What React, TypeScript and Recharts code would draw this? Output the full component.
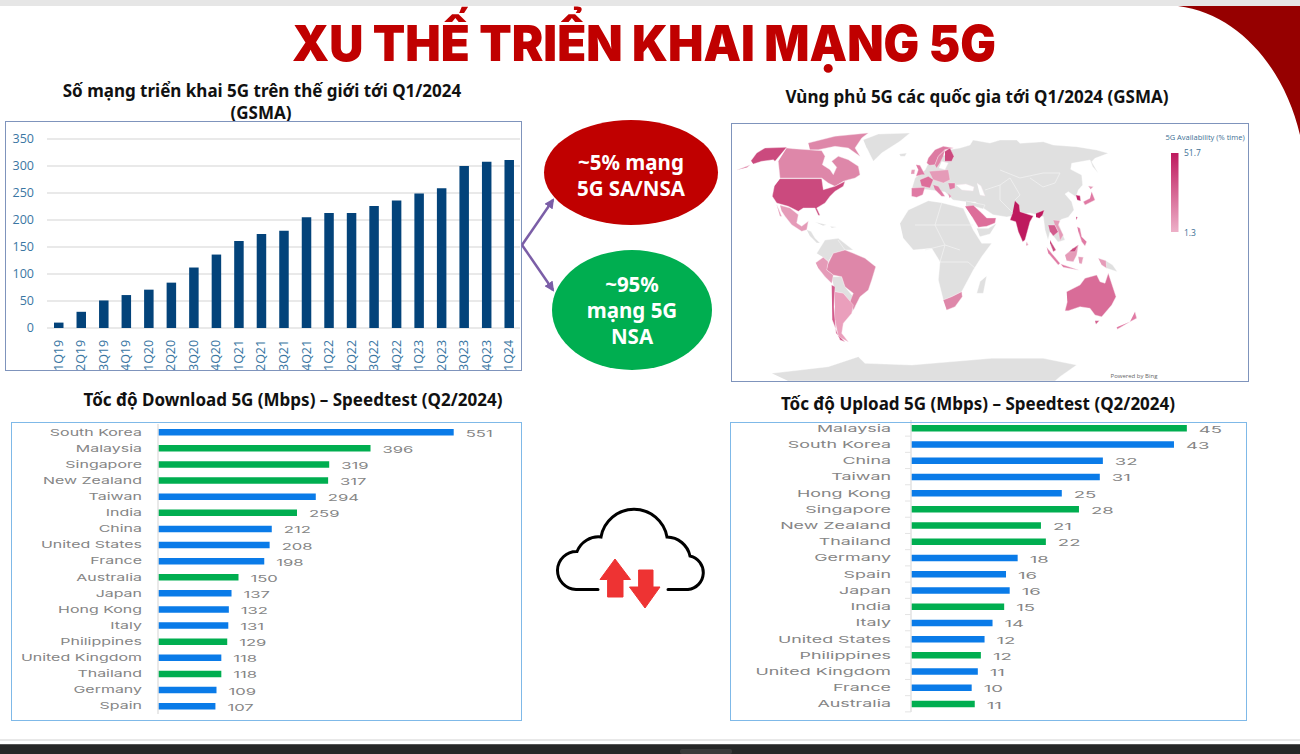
import React from 'react';
import {
  BarChart, Bar, XAxis, YAxis, CartesianGrid, Cell, LabelList, ScatterChart, Scatter,
} from 'recharts';

// ---- Network deployment chart ----
const quarters = ['1Q19','2Q19','3Q19','4Q19','1Q20','2Q20','3Q20','4Q20','1Q21','2Q21','3Q21','4Q21','1Q22','2Q22','3Q22','4Q22','1Q23','2Q23','3Q23','4Q23','1Q24'];
const networks = [10,30,51,61,71,84,112,136,161,174,180,205,213,213,226,236,249,259,300,308,311];

// ---- Speedtest charts ----
const BLUE = '#0A7BE8';
const GREEN = '#00AE50';
const dlCountries = ['South Korea','Malaysia','Singapore','New Zealand','Taiwan','India','China','United States','France','Australia','Japan','Hong Kong','Italy','Philippines','United Kingdom','Thailand','Germany','Spain'];
const dlValues = [551,396,319,317,294,259,212,208,198,150,137,132,131,129,118,118,109,107];
const dlColors = [BLUE,GREEN,GREEN,GREEN,BLUE,GREEN,BLUE,BLUE,BLUE,GREEN,BLUE,BLUE,BLUE,GREEN,BLUE,GREEN,BLUE,BLUE];
const ulCountries = ['Malaysia','South Korea','China','Taiwan','Hong Kong','Singapore','New Zealand','Thailand','Germany','Spain','Japan','India','Italy','United States','Philippines','United Kingdom','France','Australia'];
const ulBars = [45,42.9,31.3,30.8,24.6,27.4,21.2,22,17.4,15.5,16.1,15.2,13.3,12,11.4,10.9,9.9,10.4];
const ulLabels = [45,43,32,31,25,28,21,22,18,16,16,15,14,12,12,11,10,11];
const ulColors = [GREEN,BLUE,BLUE,BLUE,BLUE,GREEN,GREEN,GREEN,BLUE,BLUE,BLUE,GREEN,BLUE,BLUE,GREEN,BLUE,BLUE,GREEN];

// ---- Coverage map: outlines in map units ----
const GRAY = '#e0e0e0';
type Region = [string, string, number[]];
const mapRegions: Region[] = [
  ['Greenland', GRAY, [863.3,139.7,878.3,134,910,133,900,141.3,881.7,153,873.3,161.3,866.7,148]],
  ['Iceland', GRAY, [899.3,154,906.7,153,905,156.3,900.7,156.3]],
  ['Antarctica', GRAY, [771.7,373.3,828.3,366.7,858.3,356.7,865,363.3,911.7,365,991.7,358.3,1043.3,358.3,1076.7,365,1060,376.7,1055,381,788.3,381]],
  ['Africa', GRAY, [900,223.3,908.3,210,928.3,200.7,941.7,202.7,963.3,208.3,973.3,230,981.7,243.3,991.7,243.3,981.7,256.7,973.3,270,961.7,291.7,951.7,296.7,943.3,300,938.3,280,940,261.7,931.7,248.3,913.3,250,903.3,238.3]],
  ['Madagascar', GRAY, [986.7,276,983.3,293.3,976.7,293.3,980,281.7]],
  ['Eurasia', GRAY, [948,150,960,148,970,145,973,140,990,143,1000,140,1016.7,140,1020,143.3,1043.3,141.7,1053.3,145,1076.7,146.7,1096.7,150,1108.3,153.3,1095,158.3,1091.7,161.7,1098.3,173.3,1092.7,166.7,1090,160,1071.7,163.3,1070.7,169.3,1081.7,175,1082.7,185,1078.3,190,1076,197,1068.3,191.7,1065,194,1071.7,201.7,1074,210,1068.3,217.3,1061.7,219.3,1058,222,1065,240,1058,242,1050,232,1048,240,1045,230,1043.3,216.7,1030,213,1012,216,1006.7,217,993,214.7,983,208,975,202,968,202,953,200,945,192,930,190,912,188,915,178,925,170,930,160,945,155]],
  ['Yemen', GRAY, [976.7,228.3,988.3,228.3,996.7,223.3,990,234,980,236.7]],
  ['Levant', GRAY, [966,201,985,205,983,209,973,206,966,207]],
  ['Black Sea', '#ffffff', [956,185,966,184,974,187,973,191,962,190]],
  ['Caspian', '#ffffff', [977,183,981,186,985,196,980,195]],
  ['Baltic', '#ffffff', [941.7,161.3,948.3,163,945,169.7,939,168]],
  ['Central America', GRAY, [806.7,229.7,811,231.3,815,238,820,243,816.7,243,810,236.3]],
  ['Cuba', GRAY, [815,222,826.7,224.7,823.3,225.7]],
  ['Hispaniola', GRAY, [830,226.3,836.7,227,832,228]],
  ['North South America', GRAY, [816.7,253.3,825,240,838.3,238.3,853.3,250,845,250,833.3,253.3,828.3,261.7,823.3,257.3]],
  ['Bolivia Paraguay', GRAY, [831.7,276.7,841.7,276.7,845,286.7,853.3,296.7,850,301.7,843.3,293.3,835,291.7]],
  ['Uruguay', GRAY, [850,302.7,855.7,306.7,852.3,311.7,849,309.3]],
  ['Alaska', '#CB4A7E', [751,160.7,756.7,153,765,148,786.7,147.3,775,161.3,773.3,159.7,761.7,161.3,753.3,164]],
  ['Aleutians', '#E085A8', [737,170,750,165,747,167.5]],
  ['Canada', '#DE87A9', [786.7,148,793,148.7,821.7,150.7,825,156.3,822.3,164.7,830,169.7,833.3,174.7,836.7,167.3,831.7,161.3,838.3,156.3,848.3,159.7,858.3,166.3,860,174.7,855,178,848.3,179.7,843.3,181.3,835,186.3,828.3,183,821.7,178,780,178,778.3,161.3]],
  ['Arctic Canada', '#DE87A9', [808.3,143,835,136.3,868.3,133,861.7,138,855,148,860,156.3,848.3,148,835,146.3,818.3,149.7,810,149.7]],
  ['United States', '#CB4A7E', [780,178.7,821.7,178.7,823.3,189.7,835,186.3,845,181.3,843.3,186.3,835,191.3,830,196.3,825,203,816.7,208,820,215.3,818.3,215.3,815,208,803.3,208,798.3,211.3,788.3,206.3,776.7,203,772.3,196.3,774.3,186.3]],
  ['Mexico', '#E59BB8', [780,205.3,790,208,798.3,214.7,796.7,223,801.7,226.3,808.3,221.3,806.7,229.7,801.7,231.3,791.7,224.7,785,216.3,781.7,211.3]],
  ['Baja California', '#E59BB8', [776.7,204.7,781.7,216.3,780,216.3]],
  ['Brazil', '#DE87A9', [828.3,263.3,833.3,253.3,845,250,853.3,253.3,865,258.3,875.7,266.7,871.7,280,868.3,290,860,296.7,853.3,310,850,301.7,853.3,293.3,845,286.7,841.7,276.7,833.3,275,826.7,270]],
  ['Peru', '#E59BB8', [815.7,262.7,823.3,257.3,828.3,261.7,826.7,270,833.3,275,831.7,283.3,825,276.7,818.3,268.3]],
  ['Argentina', '#EA9FBC', [835,291.7,843.3,293.3,853.3,305,851.7,313.3,843.3,323.3,841.7,333.3,848.3,341.7,838.3,336.7,835,320]],
  ['Chile', '#D25B8C', [831.7,285,835,286.7,834,306.7,836,333.3,845,341.7,840,340,832.3,320]],
  ['South Africa', '#DE87A9', [943.3,300,951.7,296.7,961.7,291.7,962.3,296.7,955,306.7,946.7,310]],
  ['Norway', '#DD7AA2', [926.7,163,928.3,158,935,149.7,943.3,146.3,953.3,148,945,149.7,938.3,156.3,935,164.7,930,165.3]],
  ['Sweden', '#E085A8', [935,164.7,938.3,156.3,945,149.7,943.3,156.3,940,163,936.7,168]],
  ['Finland', '#CB4A7E', [945,151.3,950,148,954,156.3,951.7,161.3,945,161.3]],
  ['United Kingdom', '#E07AA4', [916,164.7,920,165.3,925,174.7,921.7,174.7,916,176.3,918.3,169.7]],
  ['Ireland', '#E59BB8', [911.7,169.7,915,169.7,914.3,174,911,174]],
  ['Central Europe', '#E59BB8', [929.3,171.3,948.3,169.7,950,179.7,943.3,183,933.3,179.7]],
  ['France', '#DD6E9A', [920,179.7,928.3,176.3,933.3,179.7,930,188,921.7,186.3]],
  ['Spain', '#E07AA4', [911.7,188,925,187.3,922.7,194.7,916.7,197.3,911.7,196.3]],
  ['Italy', '#E07AA4', [933.3,184.7,938.3,186.3,945,196.3,941.7,196.3,935,189.7]],
  ['Romania', '#E07AA4', [948.3,183,955,183,955,188,950,189.7]],
  ['Greece', '#E59BB8', [948.3,193,951.7,196.3,949.3,198]],
  ['Saudi Arabia', '#DD6E9A', [965,206.3,973.3,205.3,981.7,213,986.7,218,996,218,995,223,986.7,226.3,978.3,227.3,971.7,216.3]],
  ['India', '#BE1A5E', [1015,200.7,1019.3,205,1020,211.7,1033.3,216,1030,221.7,1025,240,1022.7,241.7,1018.3,231.7,1015.7,221.7,1010,220,1012.7,212.7]],
  ['North East India', '#BE1A5E', [1036,213.3,1044.3,210,1042.7,215,1039.3,218.3,1036,217.3]],
  ['Sri Lanka', '#E59BB8', [1026.7,241.7,1028.3,245,1026,245.7]],
  ['Thailand', '#D25B8C', [1048.3,225,1055,225,1058.3,231.7,1053.3,236,1050,231.7]],
  ['Vietnam', '#E59BB8', [1053.3,220,1060,220.7,1058.3,225,1063.3,235,1060,240.7,1058.3,231.7,1055,225]],
  ['Malaysia', '#C94A7E', [1050,240,1056,250,1053.3,251.7,1050,243.3]],
  ['Sumatra', '#E07AA4', [1046.7,247.3,1060,263.3,1058.3,265,1048.3,253.3]],
  ['Java', '#E07AA4', [1060.7,264,1078.3,270,1063.3,267.3]],
  ['Borneo', '#E59BB8', [1065,255,1073.3,248.3,1078.3,245,1076.7,255,1073.3,261.7,1066.7,260.7]],
  ['Sarawak', '#C94A7E', [1073.3,248.3,1078.3,245,1075,251.7,1069.3,251.7]],
  ['Sulawesi', '#E59BB8', [1078.3,256.7,1083.3,257.3,1081.7,264,1079.3,263.3]],
  ['West Papua', '#E59BB8', [1098.3,258.3,1106,260.7,1106.7,268.3,1101.7,265]],
  ['Papua New Guinea', GRAY, [1106,260.7,1112.7,265,1117.3,271.7,1106.7,268.3]],
  ['Philippines', '#E07AA4', [1077.3,226.7,1080,228.3,1081.7,236.7,1086.7,241.7,1085,246,1081.7,241.7,1078.3,231.7]],
  ['Taiwan', '#D25B8C', [1076,216.7,1077.7,217.3,1076,220]],
  ['Japan', '#E07AA4', [1091.7,191.7,1095,200,1085,205,1083.3,201.7,1090,198.3]],
  ['Hokkaido', '#E59BB8', [1088.3,186,1093.3,186.7,1090.7,189.3]],
  ['South Korea', '#C2246A', [1076,195,1080,195.7,1080.7,201,1077.3,200]],
  ['Australia', '#D96C98', [1066.7,291.7,1080,285,1085,278.3,1096.7,275,1100,281.7,1105,283.3,1108.3,273.3,1116,296.7,1111.7,305,1101.7,316.7,1095,315,1090,308.3,1080,306.7,1068.3,310.7,1065,310.7,1067.3,301.7]],
  ['Tasmania', '#D25B8C', [1095,320.7,1099.3,320.7,1096,324.3]],
  ['New Zealand North', '#E07AA4', [1135,311.7,1136.7,318.3,1130,321.7]],
  ['New Zealand South', '#E07AA4', [1130,321.7,1117.3,329.3,1116.7,327.3]],
];
const mapBorders: number[][] = [
  [1000,170,1020,178,1043,173,1060,173,1055,183,1043,187,1030,178],
  [1000,185,1010,178,1020,195,1015,200],
  [985,190,1000,185,1000,200,1012,212],
  [941.7,203,935,225,945,245,960,250],
  [915,225,945,225,973,225],
  [925,250,945,245,940,262,968,262,975,268],
  [845,250,838,240],
];

const downloadRows = dlCountries.map((name, i) => ({ name, bar: dlValues[i], label: dlValues[i], color: dlColors[i] }));
const uploadRows = ulCountries.map((name, i) => ({ name, bar: ulBars[i], label: ulLabels[i], color: ulColors[i] }));
const networkRows = quarters.map((q, i) => ({ q, v: networks[i] }));

const WIDE = 'Inter, sans-serif';
const BOLD = '"Noto Sans", sans-serif';

const toPoints = (pts: number[]) => {
  const data: { x: number; y: number }[] = [];
  for (let i = 0; i < pts.length; i += 2) data.push({ x: pts[i], y: pts[i + 1] });
  return data;
};

const CountryTick = (props: any) => {
  const { x, y, payload, tickMark, shift, stretch } = props;
  return (
    <g>
      {tickMark ? <line x1={x + 2} x2={x + 8} y1={y + 8} y2={y + 8} stroke="#e4e4e4" /> : null}
      <text transform={`translate(${x - 8 - (shift || 0)},${y + 3.5}) scale(${stretch},1)`} textAnchor="end" fontFamily={WIDE} fontSize={9.5} fill="#858585">{payload.value}</text>
    </g>
  );
};

const ValueLabel = (props: any) => {
  const { x, y, width, height, value, stretch } = props;
  return (
    <text transform={`translate(${x + width + 12},${y + height / 2 + 4.5}) scale(${stretch},1)`} fontFamily={WIDE} fontSize={9.5} fill="#858585">{value}</text>
  );
};

const QuarterTick = (props: any) => {
  const { x, payload } = props;
  return (
    <text transform={`translate(${x + 4.5},250) rotate(-90)`} textAnchor="start" fontFamily="'Open Sans', sans-serif" fontSize={12.5} fill="#3A76A3">{payload.value}</text>
  );
};

const Title = ({ cx, y, children }: any) => (
  <div style={{ position: 'absolute', left: cx - 300, top: y, width: 600, textAlign: 'center', fontFamily: BOLD, fontWeight: 700, fontSize: 17, lineHeight: '22px', color: '#111' }}>{children}</div>
);

const Frame = ({ x, y, w, h, color }: any) => (
  <div style={{ position: 'absolute', left: x, top: y, width: w, height: h, boxSizing: 'border-box', border: `1.5px solid ${color}`, pointerEvents: 'none' }} />
);

const Oval = ({ x, y, w, h, color, lines, lh, pad }: any) => (
  <div style={{ position: 'absolute', left: x, top: y, width: w, height: h, boxSizing: 'border-box', paddingTop: pad, borderRadius: '50%', background: color, color: '#fff', display: 'flex', flexDirection: 'column', alignItems: 'center', justifyContent: 'center', fontFamily: BOLD, fontWeight: 700, fontSize: 20.5, lineHeight: `${lh}px` }}>
    {lines.map((l: string) => <div key={l}>{l}</div>)}
  </div>
);

const SpeedChart = ({ x, y, w, h, rows, domain, axisWidth, margin, tickMark, shift, nameStretch, valueStretch }: any) => (
  <div style={{ position: 'absolute', left: x, top: y }}>
    <BarChart width={w} height={h} data={rows} layout="vertical" margin={margin} barCategoryGap={0}>
      <XAxis type="number" hide domain={domain} />
      <YAxis type="category" dataKey="name" width={axisWidth} interval={0} tickLine={false} axisLine={{ stroke: '#e2e2e2', strokeWidth: 1.5 }} tick={<CountryTick tickMark={tickMark} shift={shift} stretch={nameStretch} />} />
      <Bar dataKey="bar" barSize={6.5} isAnimationActive={false}>
        {rows.map((r: any) => <Cell key={r.name} fill={r.color} />)}
        <LabelList dataKey="label" content={<ValueLabel stretch={valueStretch} />} />
      </Bar>
    </BarChart>
  </div>
);

const MapChart = () => (
  <div style={{ position: 'absolute', left: 732, top: 124 }}>
    <ScatterChart width={516} height={257} margin={{ top: 0, right: 0, bottom: 0, left: 0 }}>
      <XAxis type="number" dataKey="x" hide domain={[732, 1248]} />
      <YAxis type="number" dataKey="y" hide domain={[124, 381]} reversed />
      {mapRegions.map(([name, color, pts]) => (
        <Scatter key={name} name={name} data={toPoints(pts)} fill={color} isAnimationActive={false}
          shape={() => <g />} line={{ fill: color, stroke: color === GRAY ? '#ffffff' : '#f7e6ee', strokeWidth: 0.4 }} lineJointType="linear" />
      ))}
      {mapBorders.map((pts, i) => (
        <Scatter key={`border-${i}`} data={toPoints(pts)} fill="#ffffff" isAnimationActive={false}
          shape={() => <g />} line={{ fill: 'none', stroke: '#f4f4f4', strokeWidth: 0.7 }} lineJointType="linear" />
      ))}
    </ScatterChart>
  </div>
);

export default function App() {
  return (
    <div style={{ position: 'absolute', left: 0, top: 0, width: 1300, height: 754, overflow: 'hidden', background: '#fff' }}>
      <svg width={1300} height={754} style={{ position: 'absolute', left: 0, top: 0 }}>
        <rect x={0} y={0} width={1300} height={6} fill="#e6e6e6" />
        <path d="M1178 6 C1240 14 1285 70 1300 135 L1300 6 Z" fill="#960000" />
        <rect x={0} y={739} width={1300} height={2} fill="#e8e8e8" />
        <rect x={0} y={744} width={1300} height={10} fill="#262727" />
        <rect x={0} y={744} width={1300} height={1} fill="#555" />
        <rect x={680} y={749} width={52} height={5} rx={2} fill="#3a3a3a" />
        <text x={292} y={61} textLength={704} lengthAdjust="spacingAndGlyphs" fontFamily="Inter, sans-serif" fontWeight={900} fontSize={49} fill="#C00000">XU THẾ TRIỂN KHAI MẠNG 5G</text>
      </svg>

      <Title cx={262} y={80}>Số mạng triển khai 5G trên thế giới tới Q1/2024</Title>
      <Title cx={261} y={102}>(GSMA)</Title>
      <Title cx={977} y={86}>Vùng phủ 5G các quốc gia tới Q1/2024 (GSMA)</Title>
      <Title cx={293} y={389}>Tốc độ Download 5G (Mbps) – Speedtest (Q2/2024)</Title>
      <Title cx={978} y={393}>Tốc độ Upload 5G (Mbps) – Speedtest (Q2/2024)</Title>

      <div style={{ position: 'absolute', left: 5, top: 121 }}>
        <BarChart width={517} height={250} data={networkRows} margin={{ top: 18, right: 2, bottom: 0, left: 0 }}>
          <CartesianGrid vertical={false} stroke="#e2e2e2" strokeWidth={1.5} />
          <XAxis dataKey="q" interval={0} axisLine={false} tickLine={false} tick={<QuarterTick />} height={43} />
          <YAxis width={42} domain={[0, 350]} ticks={[0, 50, 100, 150, 200, 250, 300, 350]} axisLine={false} tickLine={false} tick={{ fontFamily: "'Open Sans', sans-serif", fontSize: 12.5, fill: '#3A76A3', dx: -7 }} tickMargin={0} />
          <Bar dataKey="v" fill="#03437A" barSize={9.5} isAnimationActive={false} />
        </BarChart>
      </div>
      <Frame x={5} y={121} w={517} h={250} color="#7F94BC" />

      <MapChart />
      <svg width={1300} height={400} style={{ position: 'absolute', left: 0, top: 0, pointerEvents: 'none' }}>
        <defs>
          <linearGradient id="avail" x1="0" y1="0" x2="0" y2="1">
            <stop offset="0" stopColor="#BE1A5E" />
            <stop offset="1" stopColor="#EDB0C8" />
          </linearGradient>
          <marker id="arrow" viewBox="0 0 10 10" refX="8" refY="5" markerWidth="4" markerHeight="4" orient="auto">
            <path d="M0 0 L10 5 L0 10 Z" fill="#7B5EA7" />
          </marker>
        </defs>
        <text x={1205} y={139.5} textAnchor="middle" fontFamily="'Open Sans', sans-serif" fontSize={7.5} fill="#3D6F94">5G Availability (% time)</text>
        <rect x={1171} y={153} width={7.5} height={79} fill="url(#avail)" />
        <text x={1184} y={156} fontFamily="'Open Sans', sans-serif" fontSize={8.5} fill="#3D6F94">51.7</text>
        <text x={1184} y={236} fontFamily="'Open Sans', sans-serif" fontSize={8.5} fill="#3D6F94">1.3</text>
        <text x={1134} y={378} textAnchor="middle" fontFamily="'Open Sans', sans-serif" fontSize={6} fill="#666">Powered by Bing</text>
        <line x1={522} y1={245} x2={553} y2={200} stroke="#7B5EA7" strokeWidth={2.5} markerEnd="url(#arrow)" />
        <line x1={522} y1={245} x2={553} y2={290} stroke="#7B5EA7" strokeWidth={2.5} markerEnd="url(#arrow)" />
      </svg>
      <Frame x={731} y={123} w={518} h={259} color="#7F94BC" />

      <Oval x={544} y={120} w={174} h={105} color="#C00000" lh={25.5} pad={6} lines={['~5% mạng', '5G SA/NSA']} />
      <Oval x={552} y={250} w={160} h={120} color="#00AE50" lh={26} pad={0} lines={['~95%', 'mạng 5G', 'NSA']} />

      <SpeedChart x={11} y={422} w={511} h={299} rows={downloadRows} domain={[0, 600]} axisWidth={147} margin={{ top: 2, right: 42, bottom: 7, left: 0 }} tickMark={false} shift={0} nameStretch={1.68} valueStretch={1.75} />
      <Frame x={11} y={422} w={511} h={299} color="#7FB9E8" />
      <SpeedChart x={730} y={419} w={517} h={302} rows={uploadRows} domain={[0, 50]} axisWidth={181} margin={{ top: 1, right: 29.5, bottom: 9, left: 0 }} tickMark shift={4} nameStretch={1.88} valueStretch={1.95} />
      <Frame x={730} y={422} w={517} h={299} color="#7FB9E8" />

      <svg width={1300} height={754} style={{ position: 'absolute', left: 0, top: 0, pointerEvents: 'none' }}>
        <path d="M598 589.5 H576 A19 19 0 0 1 577 551.5 A23 23 0 0 1 601 537 A33.5 33.5 0 0 1 667 537 A24 24 0 0 1 690 556 A17 17 0 0 1 688 589.5 H668" fill="none" stroke="#000" strokeWidth={3} strokeLinecap="round" />
        <path d="M615 559 L630.5 579.5 L623 579.5 L623 597 L607.6 597 L607.6 579.5 L600 579.5 Z" fill="#EE3333" stroke="#EE3333" strokeWidth={1} strokeLinejoin="round" />
        <path d="M638.6 570 L653 570 L653 587 L660 587 L645 608 L629.5 587 L638.6 587 Z" fill="#EE3333" stroke="#EE3333" strokeWidth={1} strokeLinejoin="round" />
      </svg>
    </div>
  );
}
